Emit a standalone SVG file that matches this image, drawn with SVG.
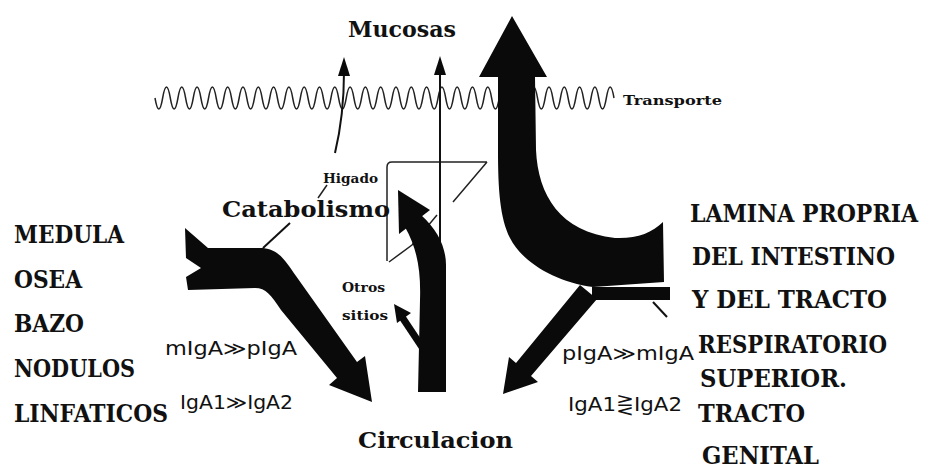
<svg xmlns="http://www.w3.org/2000/svg" width="925" height="470" viewBox="0 0 925 470">
<style>
.big{font-family:"DejaVu Serif","Liberation Serif",serif;font-weight:bold;font-stretch:condensed;font-size:25px;fill:#111}
.mid{font-family:"DejaVu Serif","Liberation Serif",serif;font-weight:bold;font-stretch:condensed;font-size:22px;fill:#111}
.sm{font-family:"DejaVu Serif","Liberation Serif",serif;font-weight:bold;font-stretch:condensed;font-size:13px;fill:#111}
.ig{font-family:"DejaVu Sans","Noto Sans",sans-serif;font-size:19px;fill:#111}
.fl{fill:#0a0a0a;stroke:none}
.ln{fill:none;stroke:#111;stroke-width:2}
.th{fill:none;stroke:#222;stroke-width:1.5}
</style>
<rect width="925" height="470" fill="#fff"/>
<g id="membrane">
<path class="th" stroke="#333" d="M155 98 q3.825 22 7.65 0 t7.65 0 t7.65 0 t7.65 0 t7.65 0 t7.65 0 t7.65 0 t7.65 0 t7.65 0 t7.65 0 t7.65 0 t7.65 0 t7.65 0 t7.65 0 t7.65 0 t7.65 0 t7.65 0 t7.65 0 t7.65 0 t7.65 0 t7.65 0 t7.65 0 t7.65 0 t7.65 0 t7.65 0 t7.65 0 t7.65 0 t7.65 0 t7.65 0 t7.65 0 t7.65 0 t7.65 0 t7.65 0 t7.65 0 t7.65 0 t7.65 0 t7.65 0 t7.65 0 t7.65 0 t7.65 0 t7.65 0 t7.65 0 t7.65 0 t7.65 0 t7.65 0 t7.65 0 t7.65 0 t7.65 0 t7.65 0 t7.65 0 t7.65 0 t7.65 0 t7.65 0 t7.65 0 t7.65 0 t7.65 0 t7.65 0 t7.65 0 t7.65 0 t7.65 0"/>
<text class="sm" x="623" y="105" textLength="99" lengthAdjust="spacingAndGlyphs">Transporte</text>
</g>
<g id="liver">
<path class="th" d="M487 162 L392 162 Q387 162 387 167 L387 261 M487 162 L453 202 M389 262 L412 245 L437 215"/>
<path class="th" d="M327 185 L318 198"/>
<text class="sm" x="323" y="183" textLength="55" lengthAdjust="spacingAndGlyphs">Higado</text>
</g>
<g id="connectors">
<path class="ln" d="M335 153 Q344 115 344 72"/>
<path class="fl" d="M344 57 L338 76 L350 76 Z"/>
<path class="ln" d="M440 70 L440 300"/>
<path class="fl" d="M440 56 L434 75 L446 75 Z"/>
<path class="fl" d="M185 228 L208 248 L263 248 C280 250 286 262 296 276 L357 362 L365 356 L372 402 L329 385 L337 378 L281 310 C271 295 266 288 255 288 L188 290 L186 277 L201 268 L186 258 Z"/>
<path class="ln" d="M263 248 L290 223"/>
<path class="fl" d="M512 16 L547 77 L535 77 L536 150 C538 195 560 232 615 238 C636 239 652 233 663 222 L664 282 L593 287 C555 282 522 262 510 238 C500 218 498 190 498 150 L498 77 L479 77 Z"/>
<rect class="fl" x="592" y="287" width="78" height="13"/>
<path class="ln" d="M653 302 L667 317"/>
<path class="fl" d="M580 285 L516 363 L509 357 L503 394 L538 382 L531 376 L597 299 Z"/>
<path class="fl" d="M421 215 C438 230 446 248 446 265 L446 392 L418 392 L420 300 C421 270 417 248 405 227 Z"/>
<path class="fl" d="M398 190 L430 210 L399 234 Z"/>
<path d="M424 350 L402 317" stroke="#0a0a0a" stroke-width="7" fill="none"/>
<path class="fl" d="M394 304 L411 313 L397 323 Z"/>
</g>
<g id="mucosas"><text class="mid" x="348" y="37" textLength="108" lengthAdjust="spacingAndGlyphs">Mucosas</text></g>
<g id="catabolismo"><text class="mid" x="222" y="217" textLength="168" lengthAdjust="spacingAndGlyphs">Catabolismo</text></g>
<g id="circulacion"><text class="mid" x="358" y="448" textLength="155" lengthAdjust="spacingAndGlyphs">Circulacion</text></g>
<g id="otros">
<text class="sm" x="342" y="292" textLength="43" lengthAdjust="spacingAndGlyphs">Otros</text>
<text class="sm" x="342" y="320" textLength="46" lengthAdjust="spacingAndGlyphs">sitios</text>
</g>
<g id="medula">
<text class="big" x="14" y="243" textLength="110" lengthAdjust="spacingAndGlyphs">MEDULA</text>
<text class="big" x="14" y="288" textLength="68" lengthAdjust="spacingAndGlyphs">OSEA</text>
<text class="big" x="14" y="332" textLength="70" lengthAdjust="spacingAndGlyphs">BAZO</text>
<text class="big" x="14" y="377" textLength="121" lengthAdjust="spacingAndGlyphs">NODULOS</text>
<text class="big" x="14" y="422" textLength="154" lengthAdjust="spacingAndGlyphs">LINFATICOS</text>
</g>
<g id="lamina">
<text class="big" x="690" y="222" textLength="228" lengthAdjust="spacingAndGlyphs">LAMINA PROPRIA</text>
<text class="big" x="692" y="265" textLength="203" lengthAdjust="spacingAndGlyphs">DEL INTESTINO</text>
<text class="big" x="692" y="308" textLength="195" lengthAdjust="spacingAndGlyphs">Y DEL TRACTO</text>
<text class="big" x="698" y="353" textLength="189" lengthAdjust="spacingAndGlyphs">RESPIRATORIO</text>
<text class="big" x="700" y="387" textLength="147" lengthAdjust="spacingAndGlyphs">SUPERIOR.</text>
<text class="big" x="698" y="422" textLength="107" lengthAdjust="spacingAndGlyphs">TRACTO</text>
<text class="big" x="702" y="464" textLength="117" lengthAdjust="spacingAndGlyphs">GENITAL</text>
</g>
<g id="ratios">
<text class="ig" x="165" y="355" textLength="132" lengthAdjust="spacingAndGlyphs">mIgA≫pIgA</text>
<text class="ig" x="180" y="409" textLength="113" lengthAdjust="spacingAndGlyphs">IgA1≫IgA2</text>
<text class="ig" x="562" y="360" textLength="132" lengthAdjust="spacingAndGlyphs">pIgA≫mIgA</text>
<text class="ig" x="568" y="411" textLength="114" lengthAdjust="spacingAndGlyphs">IgA1⋛IgA2</text>
</g>
</svg>
